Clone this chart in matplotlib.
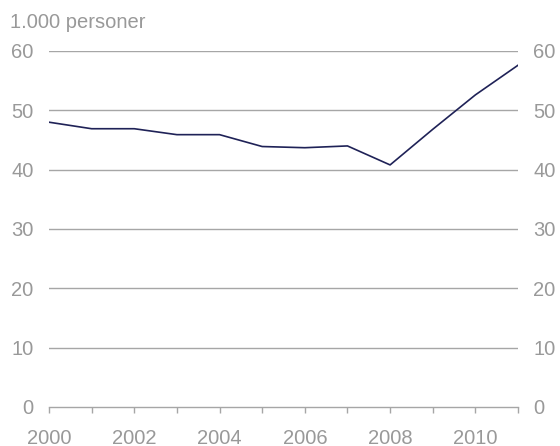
import matplotlib.pyplot as plt

plt.rcParams['font.family'] = ['Liberation Sans', 'DejaVu Sans']

years = [2000, 2001, 2002, 2003, 2004, 2005, 2006, 2007, 2008, 2009, 2010, 2011]
persons = [48.0, 46.9, 46.9, 45.9, 45.9, 43.9, 43.7, 44.0, 40.8, 46.8, 52.6, 57.6]
y_ticks = [0, 10, 20, 30, 40, 50, 60]
x_labels = [2000, 2002, 2004, 2006, 2008, 2010]

text_col = '#999999'
grid_col = '#a6a6a6'
fs = 14.5

fig = plt.figure(figsize=(5.6, 4.46), dpi=100)
ax = fig.add_axes([49 / 560, 39 / 446, 469 / 560, 356 / 446])

ax.plot(years, persons, color='#1f2257', linewidth=1.2, zorder=3)

ax.set_xlim(2000, 2011)
ax.set_ylim(0, 60)
ax.set_yticks(y_ticks)
for v in y_ticks[1:]:
    ax.axhline(v, color=grid_col, linewidth=1.0, zorder=1)

for s in ['top', 'left', 'right']:
    ax.spines[s].set_visible(False)
ax.spines['bottom'].set_color(grid_col)
ax.spines['bottom'].set_linewidth(1.0)

ax.set_xticks(years)
ax.set_xticklabels([str(y) if y in x_labels else '' for y in years])
ax.tick_params(axis='x', colors=grid_col, labelcolor=text_col, length=4,
               width=1.0, pad=12, labelsize=fs)
ax.tick_params(axis='y', length=0, labelcolor=text_col, labelsize=fs, pad=11,
               labelleft=True, labelright=True)

fig.text(10 / 560, 1 - 23 / 446, '1.000 personer', color=text_col,
         fontsize=fs, va='center', ha='left')

fig.savefig('out.png', dpi=100)
plt.close(fig)
